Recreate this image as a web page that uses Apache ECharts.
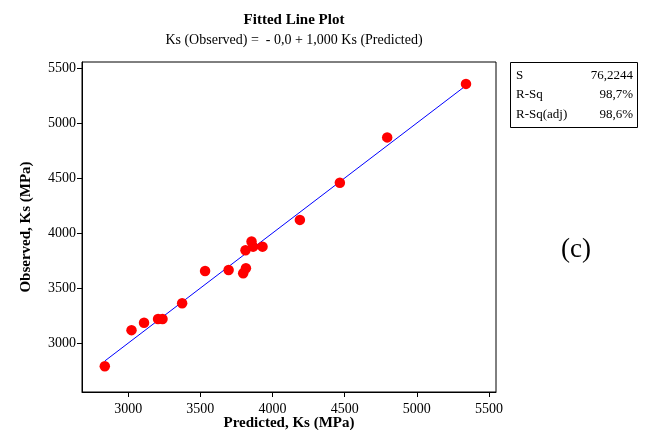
<!DOCTYPE html>
<html>
<head>
<meta charset="utf-8">
<script src="https://cdn.jsdelivr.net/npm/echarts@6/dist/echarts.min.js"></script>
<style>
html,body{margin:0;padding:0;background:#fff;}
#chart{width:645px;height:430px;}
</style>
</head>
<body>
<div id="chart"></div>
<script>
// Data
const predicted = [2838, 3023, 3110, 3207, 3238, 3374, 3533, 3696, 3797, 3816, 3813, 3855, 3866, 3931, 4190, 4467, 4795, 5341];
const observed  = [2790, 3118, 3185, 3219, 3219, 3362, 3656, 3665, 3635, 3680, 3844, 3923, 3877, 3877, 4120, 4457, 4870, 5356];
const fitIntercept = 0.0;
const fitSlope = 1.000;
const xTicks = [3000, 3500, 4000, 4500, 5000, 5500];
const yTicks = [3000, 3500, 4000, 4500, 5000, 5500];
const statNames = ['S', 'R-Sq', 'R-Sq(adj)'];
const statValues = ['76,2244', '98,7%', '98,6%'];

const FONT = '"Liberation Serif", "Times New Roman", serif';
const chart = echarts.init(document.getElementById('chart'), null, {renderer: 'canvas'});

const pts = predicted.map((x, i) => [x, observed[i]]);
const xMin = Math.min(...predicted), xMax = Math.max(...predicted);
const fitLine = [[xMin, fitIntercept + fitSlope * xMin], [xMax, fitIntercept + fitSlope * xMax]];

const statGraphics = [];
statNames.forEach((n, i) => {
  statGraphics.push({type: 'text', left: 516, top: 69 + i * 19.5,
    style: {text: n, font: '13px ' + FONT, fill: '#000'}});
  statGraphics.push({type: 'text', right: 12, top: 69 + i * 19.5,
    style: {text: statValues[i], font: '13px ' + FONT, fill: '#000', textAlign: 'right'}});
});

chart.setOption({
  animation: false,
  backgroundColor: '#fff',
  title: {
    text: 'Fitted Line Plot',
    subtext: 'Ks (Observed) =  - 0,0 + 1,000 Ks (Predicted)',
    left: 289, textAlign: 'center', top: 8, itemGap: 5,
    textStyle: {fontFamily: FONT, fontWeight: 'bold', fontSize: 15, color: '#000'},
    subtextStyle: {fontFamily: FONT, fontSize: 14, color: '#000'}
  },
  grid: {left: 82, right: 149, top: 62, bottom: 38, containLabel: false, outerBoundsMode: 'none',
    show: true, borderColor: '#000', borderWidth: 1, backgroundColor: 'transparent'},
  xAxis: {
    type: 'value', min: 2680, max: 5549,
    name: 'Predicted, Ks (MPa)', nameLocation: 'middle', nameGap: 24, nameMoveOverlap: false,
    nameTextStyle: {fontFamily: FONT, fontWeight: 'bold', fontSize: 15, color: '#000'},
    axisLine: {show: true, lineStyle: {color: '#000', width: 1}},
    axisTick: {show: true, length: 5, inside: false, customValues: xTicks, lineStyle: {color: '#000'}},
    axisLabel: {customValues: xTicks, formatter: v => String(v), fontFamily: FONT, fontSize: 14, color: '#000', margin: 10},
    splitLine: {show: false}
  },
  yAxis: {
    type: 'value', min: 2556, max: 5555,
    name: 'Observed, Ks (MPa)', nameLocation: 'middle', nameGap: 48, nameRotate: 90, nameMoveOverlap: false,
    nameTextStyle: {fontFamily: FONT, fontWeight: 'bold', fontSize: 15, color: '#000'},
    axisLine: {show: true, lineStyle: {color: '#000', width: 1}},
    axisTick: {show: true, length: 5, inside: false, customValues: yTicks, lineStyle: {color: '#000'}},
    axisLabel: {customValues: yTicks, formatter: v => String(v), fontFamily: FONT, fontSize: 14, color: '#000', margin: 6},
    splitLine: {show: false}
  },
  series: [
    {type: 'line', data: fitLine, symbol: 'none', lineStyle: {color: '#0000ff', width: 1}, z: 2},
    {type: 'scatter', data: pts, symbol: 'circle', symbolSize: 10.5, itemStyle: {color: '#ff0000', opacity: 1}, z: 3}
  ],
  graphic: [
    {type: 'rect', left: 510, top: 62, shape: {width: 127, height: 65}, style: {fill: '#fff', stroke: '#000', lineWidth: 1}},
    ...statGraphics,
    {type: 'text', left: 561, top: 236, style: {text: '(c)', font: '27px ' + FONT, fill: '#000'}}
  ]
});
</script>
</body>
</html>
